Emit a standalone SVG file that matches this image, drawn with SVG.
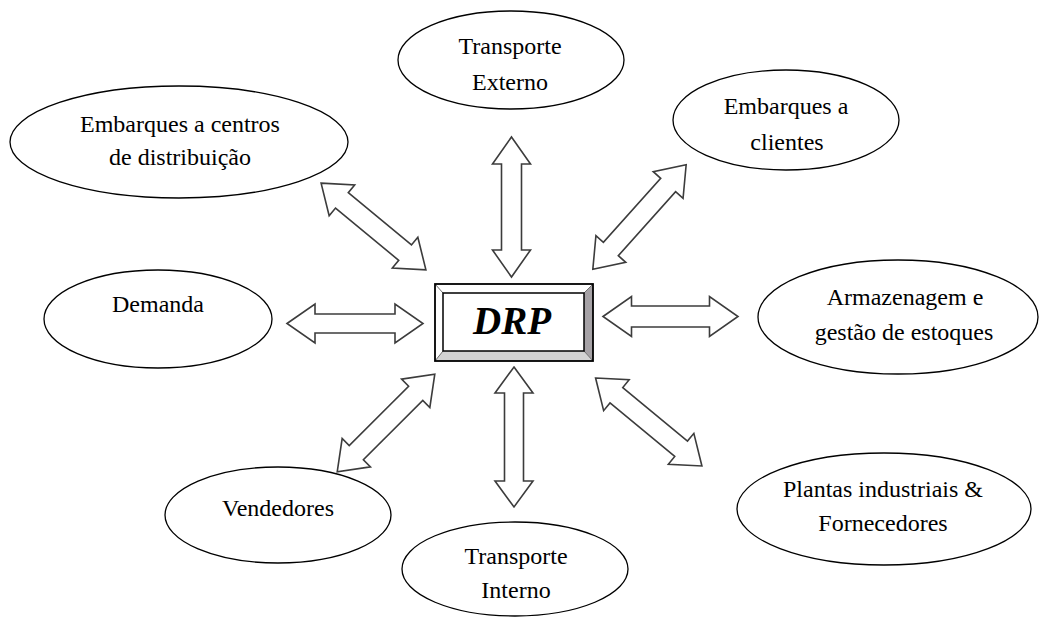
<svg xmlns="http://www.w3.org/2000/svg" width="1041" height="617" viewBox="0 0 1041 617">
  <style>
    .node ellipse { fill: #ffffff; stroke: #000000; stroke-width: 1.3; }
    .label { font-family: "Liberation Serif", "Times New Roman", serif; font-size: 24px; fill: #000000; text-anchor: middle; }
    .arrow { fill: #ffffff; stroke: #3c3c3c; stroke-width: 1.6; stroke-linejoin: miter; }
    .drp { font-family: "Liberation Serif", "Times New Roman", serif; font-size: 39px; font-weight: bold; font-style: italic; fill: #000000; text-anchor: middle; }
  </style>
  <rect width="1041" height="617" fill="#ffffff"/>

  <!-- two-headed block arrows between the hub and each node -->
  <g id="connectors">
    <path class="arrow" transform="translate(373.5,226.5) rotate(39.6)" d="M-68,0 L-41,-20 L-41,-10 L41,-10 L41,-20 L68,0 L41,20 L41,10 L-41,10 L-41,20 Z"/>
    <path class="arrow" transform="translate(511.5,207) rotate(90)" d="M-70,0 L-43,-19 L-43,-10 L43,-10 L43,-19 L70,0 L43,19 L43,10 L-43,10 L-43,19 Z"/>
    <path class="arrow" transform="translate(639.5,217) rotate(-48.2)" d="M-70,0 L-43,-20 L-43,-10 L43,-10 L43,-20 L70,0 L43,20 L43,10 L-43,10 L-43,20 Z"/>
    <path class="arrow" transform="translate(355,323.5)" d="M-68,0 L-40,-19.5 L-40,-9.5 L40,-9.5 L40,-19.5 L68,0 L40,19.5 L40,9.5 L-40,9.5 L-40,19.5 Z"/>
    <path class="arrow" transform="translate(670.5,316.5)" d="M-67.5,0 L-39,-20 L-39,-10.5 L39,-10.5 L39,-20 L67.5,0 L39,20 L39,10.5 L-39,10.5 L-39,20 Z"/>
    <path class="arrow" transform="translate(386,423) rotate(-45)" d="M-69,0 L-42,-20 L-42,-10 L42,-10 L42,-20 L69,0 L42,20 L42,10 L-42,10 L-42,20 Z"/>
    <path class="arrow" transform="translate(514,437) rotate(90)" d="M-70,0 L-44,-19 L-44,-9.5 L44,-9.5 L44,-19 L70,0 L44,19 L44,9.5 L-44,9.5 L-44,19 Z"/>
    <path class="arrow" transform="translate(648.75,422) rotate(39.6)" d="M-69,0 L-42,-20 L-42,-10 L42,-10 L42,-20 L69,0 L42,20 L42,10 L-42,10 L-42,20 Z"/>
  </g>

  <!-- central bevelled button -->
  <g id="drp">
    <rect x="435" y="284" width="158" height="77" fill="#ffffff"/>
    <polygon points="584,293 593,284 593,361 584,351" fill="#a6a2a6"/>
    <polygon points="443,351 584,351 593,361 435,361" fill="#d2d2d2"/>
    <line x1="435" y1="284" x2="443" y2="293" stroke="#6e6e6e" stroke-width="1"/>
    <line x1="593" y1="284" x2="584" y2="293" stroke="#6e6e6e" stroke-width="1"/>
    <line x1="435" y1="361" x2="443" y2="351" stroke="#6e6e6e" stroke-width="1"/>
    <line x1="593" y1="361" x2="584" y2="351" stroke="#6e6e6e" stroke-width="1"/>
    <rect x="435" y="284" width="158" height="77" fill="none" stroke="#000000" stroke-width="1.8"/>
    <rect x="443" y="293" width="141" height="58" fill="#ffffff" stroke="#000000" stroke-width="1.5"/>
    <text class="drp" x="512" y="334">DRP</text>
  </g>

  <g id="transporte-externo" class="node">
    <ellipse cx="511" cy="60" rx="113" ry="49"/>
    <text class="label" x="510" y="54">Transporte</text>
    <text class="label" x="510" y="90">Externo</text>
  </g>

  <g id="embarques-centros" class="node">
    <ellipse cx="179" cy="142" rx="169" ry="56"/>
    <text class="label" x="180" y="132">Embarques a centros</text>
    <text class="label" x="180" y="165">de distribuição</text>
  </g>

  <g id="embarques-clientes" class="node">
    <ellipse cx="786" cy="120" rx="113" ry="50"/>
    <text class="label" x="786" y="114">Embarques a</text>
    <text class="label" x="787" y="150">clientes</text>
  </g>

  <g id="demanda" class="node">
    <ellipse cx="158" cy="319" rx="114" ry="49"/>
    <text class="label" x="158" y="312">Demanda</text>
  </g>

  <g id="armazenagem" class="node">
    <ellipse cx="898" cy="317" rx="140" ry="57"/>
    <text class="label" x="905" y="305">Armazenagem e</text>
    <text class="label" x="904" y="340">gestão de estoques</text>
  </g>

  <g id="vendedores" class="node">
    <ellipse cx="278" cy="515" rx="113" ry="48"/>
    <text class="label" x="278" y="516">Vendedores</text>
  </g>

  <g id="transporte-interno" class="node">
    <ellipse cx="515" cy="569" rx="113" ry="47"/>
    <text class="label" x="516" y="564">Transporte</text>
    <text class="label" x="516" y="598">Interno</text>
  </g>

  <g id="plantas" class="node">
    <ellipse cx="884" cy="509" rx="147" ry="56"/>
    <text class="label" x="883" y="497">Plantas industriais &amp;</text>
    <text class="label" x="883" y="531">Fornecedores</text>
  </g>
</svg>
